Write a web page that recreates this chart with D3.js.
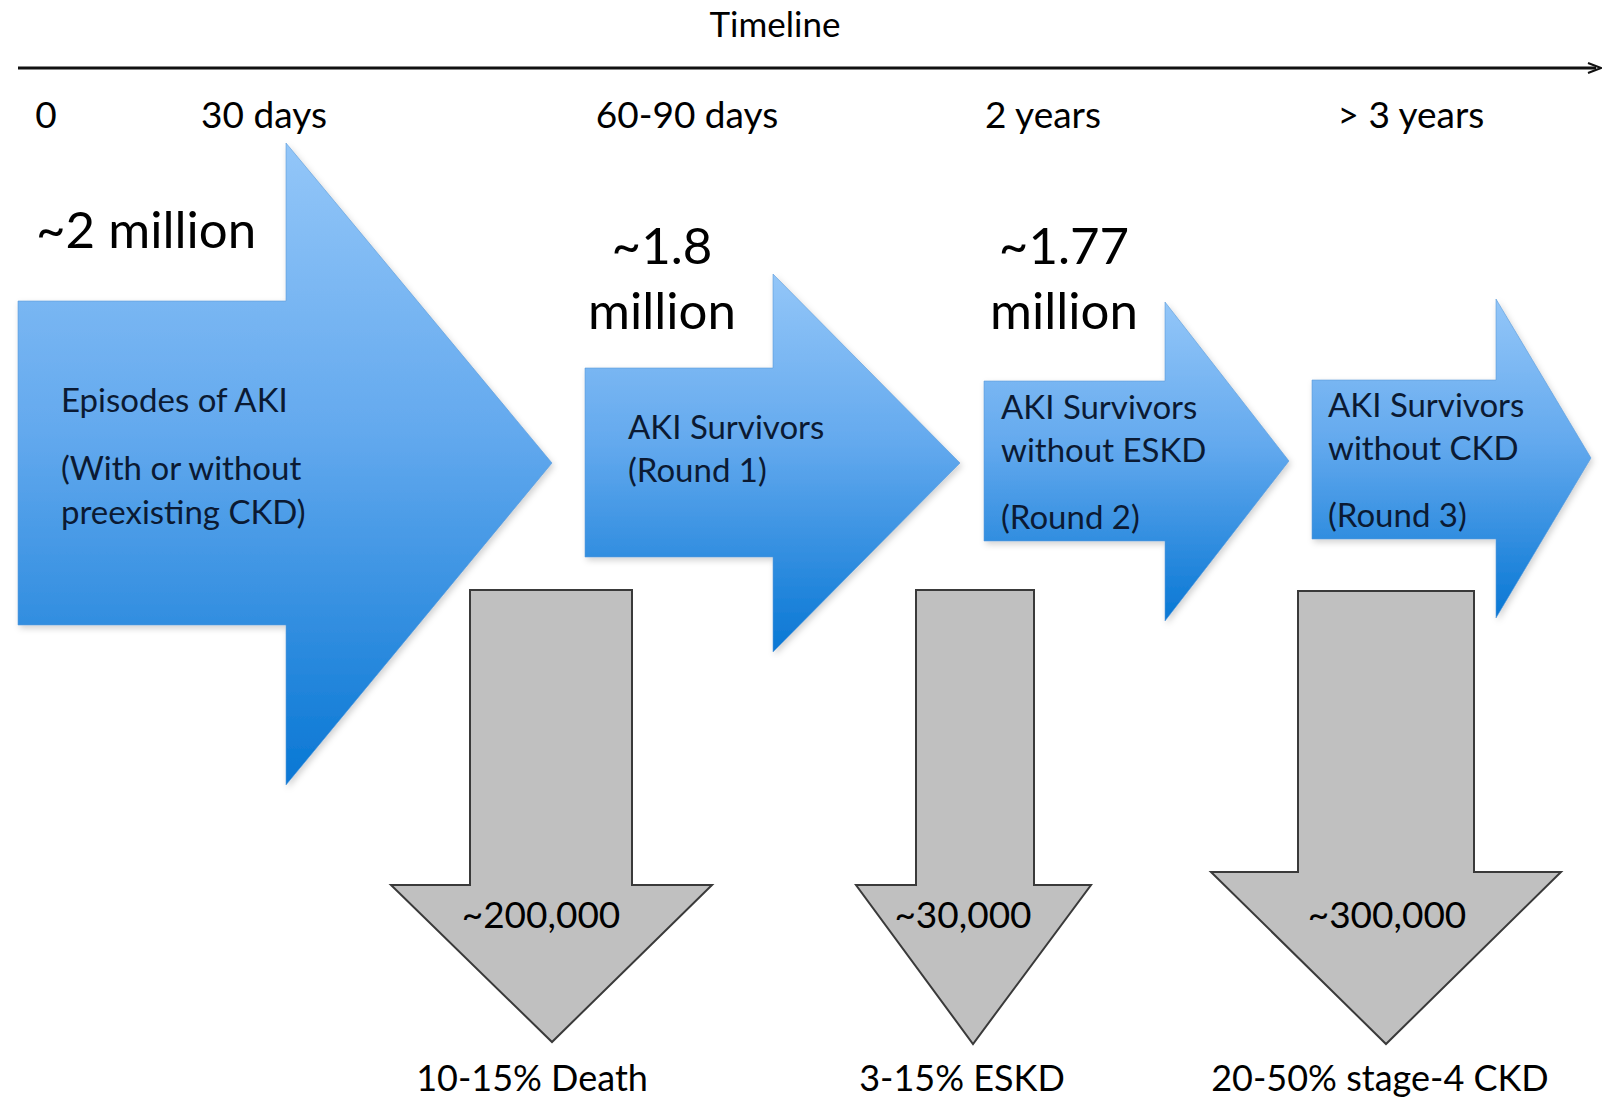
<!DOCTYPE html>
<html>
<head>
<meta charset="utf-8">
<script src="https://cdn.jsdelivr.net/npm/d3@7"></script>
<style>
  html, body { margin: 0; padding: 0; background: #fff; }
  svg { display: block; font-family: Lato, "Open Sans", sans-serif; }
</style>
</head>
<body>
<svg id="chart"></svg>
<script>
// timeline ticks
var timeTicks = ["0", "30 days", "60-90 days", "2 years", "> 3 years"];

// population still in the pathway at each stage
var stageCounts = [["~2 million"], ["~1.8", "million"], ["~1.77", "million"], []];
var stageLabels = [
  ["Episodes of AKI", "(With or without", "preexisting CKD)"],
  ["AKI Survivors", "(Round 1)"],
  ["AKI Survivors", "without ESKD", "(Round 2)"],
  ["AKI Survivors", "without CKD", "(Round 3)"]
];

// people leaving at each step
var lossCounts = ["~200,000", "~30,000", "~300,000"];
var lossLabels = ["10-15% Death", "3-15% ESKD", "20-50% stage-4 CKD"];

// ---- layout (diagram geometry, not data) ----
var W = 1602, H = 1098;
var tickX = [46, 264, 687, 1043, 1411];

var blueLayout = [
  { x0: 18,   top: 301, bot: 625, hx: 286,  htop: 143, hbot: 785, tip: 552,  cy: 463,
    countX: 36,  countY: [248],      labelX: 61,   labelY: [412, 480, 524] },
  { x0: 585,  top: 368, bot: 557, hx: 773,  htop: 274, hbot: 652, tip: 960,  cy: 463,
    countX: 662, countY: [264, 329], labelX: 628,  labelY: [439, 482] },
  { x0: 984,  top: 381, bot: 541, hx: 1165, htop: 302, hbot: 621, tip: 1289, cy: 461,
    countX: 1064, countY: [264, 329], labelX: 1001, labelY: [419, 462, 529] },
  { x0: 1312, top: 380, bot: 539, hx: 1496, htop: 299, hbot: 618, tip: 1591, cy: 458,
    countX: 0,  countY: [],         labelX: 1328, labelY: [417, 460, 527] }
];

var grayLayout = [
  { sl: 470,  sr: 632,  top: 590, sb: 885, hl: 391,  hr: 712,  tx: 552,  ty: 1042, cx: 541,  lx: 532 },
  { sl: 916,  sr: 1034, top: 590, sb: 885, hl: 856,  hr: 1091, tx: 973,  ty: 1044, cx: 963,  lx: 962 },
  { sl: 1298, sr: 1474, top: 591, sb: 872, hl: 1211, hr: 1561, tx: 1386, ty: 1044, cx: 1387, lx: 1380 }
];

var svg = d3.select("#chart")
  .attr("width", W)
  .attr("height", H);

var defs = svg.append("defs");
var grad = defs.append("linearGradient")
  .attr("id", "blueGrad")
  .attr("x1", 0).attr("y1", 0).attr("x2", 0).attr("y2", 1);
grad.append("stop").attr("offset", "0%").attr("stop-color", "#93c6f8");
grad.append("stop").attr("offset", "45%").attr("stop-color", "#63a9ee");
grad.append("stop").attr("offset", "100%").attr("stop-color", "#0877d4");

var shadow = defs.append("filter").attr("id", "soft")
  .attr("x", "-5%").attr("y", "-5%").attr("width", "115%").attr("height", "115%");
shadow.append("feDropShadow")
  .attr("dx", 2).attr("dy", 3).attr("stdDeviation", 3)
  .attr("flood-color", "#000").attr("flood-opacity", 0.18);

var line = d3.line();

// timeline
svg.append("text")
  .attr("x", 775).attr("y", 37)
  .attr("text-anchor", "middle")
  .style("font-size", "35px")
  .text("Timeline");

svg.append("line")
  .attr("x1", 18).attr("x2", 1596)
  .attr("y1", 68).attr("y2", 68)
  .attr("stroke", "#111").attr("stroke-width", 3);
svg.append("path")
  .attr("d", line([[1588, 63], [1601, 68], [1588, 73]]))
  .attr("fill", "none").attr("stroke", "#111").attr("stroke-width", 2);

svg.selectAll(".tick")
  .data(timeTicks)
  .enter()
  .append("text")
  .attr("class", "tick")
  .attr("x", function (d, i) { return tickX[i]; })
  .attr("y", 128)
  .attr("text-anchor", "middle")
  .style("font-size", "37px")
  .text(function (d) { return d; });

// blue stage arrows
function rightArrow(a) {
  return line([
    [a.x0, a.top], [a.hx, a.top], [a.hx, a.htop], [a.tip, a.cy],
    [a.hx, a.hbot], [a.hx, a.bot], [a.x0, a.bot]
  ]) + "Z";
}

var stages = svg.selectAll(".stage")
  .data(blueLayout)
  .enter()
  .append("g")
  .attr("class", "stage");

stages.append("path")
  .attr("d", rightArrow)
  .attr("fill", "url(#blueGrad)")
  .attr("stroke", "#5c9bd8")
  .attr("stroke-opacity", 0.6)
  .attr("stroke-width", 1)
  .attr("filter", "url(#soft)");

stages.each(function (a, i) {
  var g = d3.select(this);
  stageLabels[i].forEach(function (t, j) {
    g.append("text")
      .attr("x", a.labelX)
      .attr("y", a.labelY[j])
      .attr("fill", "#0b1a33")
      .style("font-size", "33px")
      .text(t);
  });
  stageCounts[i].forEach(function (t, j) {
    g.append("text")
      .attr("x", a.countX)
      .attr("y", a.countY[j])
      .attr("text-anchor", i === 0 ? "start" : "middle")
      .style("font-size", "51px")
      .text(t);
  });
});

// gray loss arrows
function downArrow(a) {
  return line([
    [a.sl, a.top], [a.sr, a.top], [a.sr, a.sb], [a.hr, a.sb],
    [a.tx, a.ty], [a.hl, a.sb], [a.sl, a.sb]
  ]) + "Z";
}

var losses = svg.selectAll(".loss")
  .data(grayLayout)
  .enter()
  .append("g")
  .attr("class", "loss");

losses.append("path")
  .attr("d", downArrow)
  .attr("fill", "#c0c0c0")
  .attr("stroke", "#3a3a3a")
  .attr("stroke-width", 2);

losses.append("text")
  .attr("x", function (d) { return d.cx; })
  .attr("y", 928)
  .attr("text-anchor", "middle")
  .style("font-size", "37px")
  .text(function (d, i) { return lossCounts[i]; });

losses.append("text")
  .attr("x", function (d) { return d.lx; })
  .attr("y", 1091)
  .attr("text-anchor", "middle")
  .style("font-size", "36px")
  .text(function (d, i) { return lossLabels[i]; });
</script>
</body>
</html>
